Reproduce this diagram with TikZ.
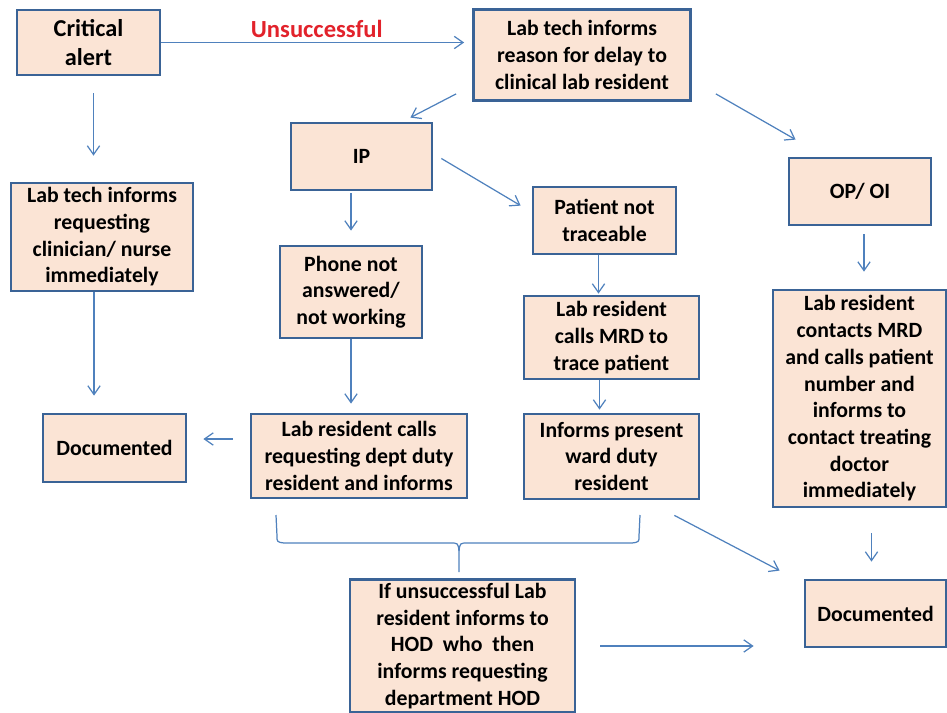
\documentclass[tikz,border=0pt]{standalone}
\usepackage{fontspec}
\setmainfont{Carlito}
\usetikzlibrary{arrows.meta}
\definecolor{boxfill}{HTML}{FBE4D5}
\definecolor{boxline}{HTML}{3A6396}
\definecolor{flowblue}{HTML}{4F81BD}
\definecolor{alertred}{HTML}{E2222B}

\begin{document}
\begin{tikzpicture}[x=0.02cm,y=-0.02cm,
    every node/.style={font=\fontsize{12.4}{15.2}\selectfont\bfseries},
    box/.style={draw=boxline,line width=1.6pt,fill=boxfill,align=center,inner sep=2pt},
    flow/.style={draw=flowblue,line width=0.7pt,-{Straight Barb[length=5pt,width=7pt]}},
    brace/.style={draw=flowblue,line width=0.7pt}]
    \useasboundingbox (0,0) rectangle (947,713);

    \node[box,minimum width=2.86cm,minimum height=1.3cm,font=\fontsize{13.8}{16.5}\selectfont\bfseries] (alert) at (88.5,42.5) {Critical\\alert};
    \node[box,minimum width=4.34cm,minimum height=1.82cm] (reason) at (582,55) {Lab tech informs\\reason for delay to\\clinical lab resident};
    \node[box,minimum width=2.82cm,minimum height=1.34cm] (IP) at (361.5,156.5) {IP};
    \node[box,minimum width=2.84cm,minimum height=1.34cm] (OP) at (860,191.5) {OP/ OI};
    \node[box,minimum width=3.64cm,minimum height=2.16cm] (clin) at (102,237) {Lab tech informs\\requesting\\clinician/ nurse\\immediately};
    \node[box,minimum width=2.86cm,minimum height=1.34cm] (patient) at (604.5,220.5) {Patient not\\traceable};
    \node[box,minimum width=2.84cm,minimum height=1.84cm] (phone) at (351,292) {Phone not\\answered/\\not working};
    \node[box,minimum width=3.5cm,minimum height=1.66cm] (MRD) at (611.5,337.5) {Lab resident\\calls MRD to\\trace patient};
    \node[box,minimum width=3.46cm,minimum height=4.34cm] (contacts) at (859.5,398.5) {Lab resident\\contacts MRD\\and calls patient\\number and\\informs to\\contact treating\\doctor\\immediately};
    \node[box,minimum width=2.86cm,minimum height=1.36cm] (docL) at (114.5,448) {Documented};
    \node[box,minimum width=4.32cm,minimum height=1.68cm] (req) at (359,456) {Lab resident calls\\requesting dept duty\\resident and informs};
    \node[box,minimum width=3.5cm,minimum height=1.7cm] (informs) at (611.5,456.5) {Informs present\\ward duty\\resident};
    \node[box,minimum width=2.82cm,minimum height=1.34cm] (docR) at (875.5,613.5) {Documented};
    \node[box,minimum width=4.5cm,minimum height=2.64cm] (HOD) at (462.5,646) {If unsuccessful Lab\\resident informs to\\HOD~ who~ then\\informs requesting\\department HOD};

    \draw[flow,shorten >=0.16cm] (alert.east) -- node[above=1.5pt,inner sep=1pt,text=alertred,font=\fontsize{14}{16}\selectfont\bfseries] (lblUnsucc) {Unsuccessful} (alert.east -| reason.west);
    \draw[flow,shorten <=0.34cm,shorten >=0.52cm] ([xshift=0.1cm]alert.south) -- ([xshift=0.1cm]alert.south |- clin.north);
    \draw[flow] ([shift={(-16,-8)}]reason.south west) -- ([shift={(-23,-4)}]IP.north east);
    \draw[flow] ([shift={(24,-8)}]reason.south east) -- ([shift={(8,-17)}]OP.north west);
    \draw[flow] ([shift={(8,2)}]IP.east) -- ([shift={(-11,20)}]patient.north west);
    \draw[flow,shorten <=0.04cm,shorten >=0.28cm] (phone.north |- IP.south) -- (phone.north);
    \draw[flow,shorten >=0.02cm] ([shift={(-6,0)}]patient.south) -- ([shift={(-6,0)}]patient.south |- MRD.north);
    \draw[flow,shorten >=0.06cm] ([shift={(-12,0)}]MRD.south) -- ([shift={(-12,0)}]informs.north);
    \draw[flow,shorten >=0.18cm] (phone.south) -- (phone.south |- req.north);
    \draw[flow,shorten >=0.34cm] ([xshift=-0.16cm]clin.south) -- ([xshift=-0.16cm]clin.south |- docL.north);
    \draw[flow,shorten <=0.34cm,shorten >=0.32cm] ([shift={(0,-17)}]req.west) -- ([shift={(0,-17)}]req.west -| docL.east);
    \draw[flow,shorten <=0.16cm,shorten >=0.34cm] ([xshift=0.08cm]OP.south) -- ([xshift=0.08cm]OP.south |- contacts.north);
    \draw[flow,shorten <=0.5cm,shorten >=0.34cm] ([xshift=0.24cm]contacts.south) -- ([xshift=0.24cm]contacts.south |- docR.north);
    \draw[flow] ([shift={(-26,15)}]informs.south east) -- ([shift={(-24,-8)}]docR.north west);
    \draw[flow,shorten <=0.48cm,shorten >=1cm] (HOD.east) -- (HOD.east -| docR.west);

    % brace under the two IP boxes
    \coordinate (braceL) at (276,515);
    \coordinate (braceR) at (640,515);
    \coordinate (braceTip) at (459,572);
    \draw[brace] (braceL) -- (277,536) .. controls (277,542) .. (284,543) -- (450,543) .. controls (458,543) .. (459,551) -- (braceTip);
    \draw[brace] (braceR) -- (639,536) .. controls (639,542) .. (632,543) -- (468,543) .. controls (460,543) .. (459,551);
\end{tikzpicture}
\end{document}
